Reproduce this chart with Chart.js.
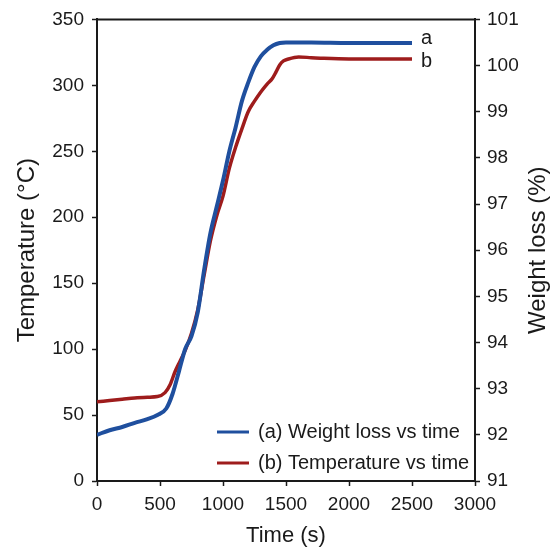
<!DOCTYPE html>
<html>
<head>
<meta charset="utf-8">
<script src="https://cdn.jsdelivr.net/npm/chart.js@4/dist/chart.umd.min.js"></script>
<style>
  html, body { margin: 0; padding: 0; background: #fff; }
  #wrap { width: 551px; height: 552px; }
</style>
</head>
<body>
<div id="wrap"><canvas id="chart" width="551" height="552"></canvas></div>
<script>
// (a) weight loss vs time (%)
const timeA = [0, 100, 200, 300, 400, 480, 550, 600, 650, 700, 750, 800, 850, 900, 950, 1000, 1050, 1100, 1150, 1200, 1250, 1300, 1350, 1400, 1450, 1500, 1700, 2000, 2500];
const weightA = [92.00, 92.10, 92.17, 92.26, 92.34, 92.43, 92.57, 92.89, 93.37, 93.86, 94.14, 94.66, 95.57, 96.37, 96.94, 97.51, 98.14, 98.66, 99.23, 99.63, 99.97, 100.20, 100.34, 100.44, 100.49, 100.50, 100.50, 100.49, 100.49];

// (b) temperature vs time (°C)
const timeB = [0, 100, 200, 300, 400, 480, 540, 580, 620, 660, 700, 750, 800, 850, 900, 950, 1000, 1050, 1100, 1150, 1200, 1250, 1300, 1350, 1390, 1420, 1450, 1480, 1520, 1600, 1700, 1800, 2000, 2500];
const tempB = [60, 61, 62, 63, 63.5, 64, 67, 73, 83, 91, 99, 112, 130, 156, 182, 201, 216, 237, 253, 267, 280, 288, 295, 301, 305, 310, 315.5, 318.5, 320, 321.5, 321, 320.5, 320, 320];

const seriesLabels = ['(a) Weight loss vs time', '(b) Temperature vs time'];
const endTags = ['a', 'b'];
const xTitle = 'Time (s)';
const yLeftTitle = 'Temperature (°C)';
const yRightTitle = 'Weight loss (%)';

const BLUE = '#1f4f9e';
const RED = '#9e1c1c';
const INK = '#1a1a1a';
const FONT = 'Liberation Sans, Arial, Helvetica, sans-serif';

const toPoints = (xs, ys) => xs.map((x, i) => ({ x, y: ys[i] }));

// frame top line, right title, end tags and legend
const extras = {
    id: 'extras',
    afterDraw(chart) {
        const { ctx, chartArea: a, scales } = chart;
        ctx.save();
        ctx.strokeStyle = INK;
        ctx.lineWidth = 2;
        ctx.beginPath();
        ctx.moveTo(a.left - 1, a.top);
        ctx.lineTo(a.right + 1, a.top);
        ctx.stroke();

        ctx.fillStyle = INK;
        ctx.font = '24px ' + FONT;
        ctx.textAlign = 'center';
        ctx.textBaseline = 'middle';
        ctx.translate(538, (a.top + a.bottom) / 2);
        ctx.rotate(-Math.PI / 2);
        ctx.fillText(yRightTitle, 0, 0);
        ctx.restore();

        // a / b tags next to the end of each curve
        const tagShift = [-4, 3];
        ctx.save();
        ctx.fillStyle = INK;
        ctx.font = '20px ' + FONT;
        ctx.textAlign = 'left';
        ctx.textBaseline = 'middle';
        chart.data.datasets.forEach((ds, i) => {
            const last = ds.data[ds.data.length - 1];
            const px = scales.x.getPixelForValue(last.x) + 9;
            const py = scales[ds.yAxisID].getPixelForValue(last.y) + tagShift[i];
            ctx.fillText(endTags[i], px, py);
        });

        // legend
        chart.data.datasets.forEach((ds, i) => {
            const y = a.bottom - 49 + i * 31;
            ctx.strokeStyle = ds.borderColor;
            ctx.lineWidth = 3;
            ctx.beginPath();
            ctx.moveTo(217, y);
            ctx.lineTo(249, y);
            ctx.stroke();
            ctx.fillStyle = INK;
            ctx.fillText(ds.label, 258, y);
        });
        ctx.restore();
    }
};

new Chart(document.getElementById('chart'), {
    type: 'line',
    data: {
        datasets: [
            {
                label: seriesLabels[0],
                data: toPoints(timeA, weightA),
                yAxisID: 'yR',
                borderColor: BLUE,
                borderWidth: 4,
                pointRadius: 0,
                cubicInterpolationMode: 'monotone'
            },
            {
                label: seriesLabels[1],
                data: toPoints(timeB, tempB),
                yAxisID: 'y',
                borderColor: RED,
                borderWidth: 3.5,
                pointRadius: 0,
                cubicInterpolationMode: 'monotone'
            }
        ]
    },
    options: {
        responsive: false,
        animation: false,
        layout: { padding: { top: 19, left: 0, right: 0, bottom: 0 } },
        plugins: {
            legend: { display: false },
            tooltip: { enabled: false }
        },
        scales: {
            x: {
                type: 'linear',
                min: 0,
                max: 3000,
                afterFit: (s) => { s.height = 71; },
                ticks: { stepSize: 500, color: INK, padding: 7, maxRotation: 0, callback: (v) => String(v), font: { family: FONT, size: 19 } },
                grid: { drawOnChartArea: false, tickLength: 5, tickColor: INK, tickWidth: 1.5 },
                border: { color: INK, width: 2 },
                title: { display: true, text: xTitle, color: INK, padding: { top: 0, bottom: 3 }, font: { family: FONT, size: 22 } }
            },
            y: {
                position: 'left',
                min: 0,
                max: 350,
                afterFit: (s) => { s.width = 97; },
                ticks: { stepSize: 50, color: INK, padding: 8, font: { family: FONT, size: 19 } },
                grid: { drawOnChartArea: false, tickLength: 5, tickColor: INK, tickWidth: 1.5 },
                border: { color: INK, width: 2 },
                title: { display: true, text: yLeftTitle, color: INK, padding: { top: 13, bottom: 0 }, font: { family: FONT, size: 24 } }
            },
            yR: {
                position: 'right',
                min: 91,
                max: 101,
                afterFit: (s) => { s.width = 76; },
                ticks: { stepSize: 1, color: INK, padding: 7, font: { family: FONT, size: 19 } },
                grid: { drawOnChartArea: false, tickLength: 5, tickColor: INK, tickWidth: 1.5 },
                border: { color: INK, width: 2 }
            }
        }
    },
    plugins: [extras]
});
</script>
</body>
</html>
